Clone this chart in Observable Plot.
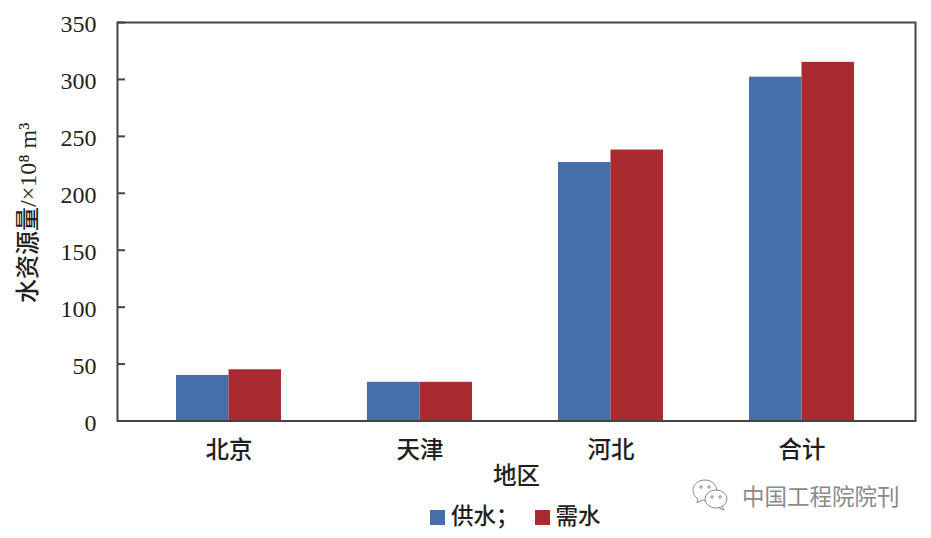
<!DOCTYPE html>
<html>
<head>
<meta charset="utf-8">
<script src="https://cdn.jsdelivr.net/npm/d3@7"></script>
<script src="https://cdn.jsdelivr.net/npm/@observablehq/plot@0.6"></script>
<style>
html,body{margin:0;padding:0;background:#fff;width:931px;height:538px;overflow:hidden;position:relative}
#legend{position:absolute;left:430px;top:502px;display:flex;align-items:center;font:500 22.5px "Liberation Serif","Noto Sans CJK SC",serif;color:#231f20;line-height:30px}
#legend i{display:inline-block;width:15px;height:15px;margin-right:6px}
#legend span+span{margin-left:16px}
#mark{position:absolute;left:692px;top:479px;display:flex;align-items:center;font:400 22.5px "Noto Sans CJK SC",sans-serif;color:#8a8a8a;line-height:30px}
#mark svg{margin-right:14px}
</style>
</head>
<body>
<div id="chart"></div>
<div id="legend"></div>
<div id="mark"></div>
<script>
const regions = ["北京", "天津", "河北", "合计"];
const supply = [40, 34, 227, 302];
const demand = [45, 34, 238, 315];
const seriesNames = ["供水；", "需水"];
const seriesColors = ["#456EAB", "#A92B30"];
const yTicks = [0, 50, 100, 150, 200, 250, 300, 350];
const yLabel = "水资源量/×10⁸ m³";
const xLabel = "地区";
const watermark = "中国工程院院刊";

const ink = "#231f20";
const font = '"Liberation Serif","Noto Sans CJK SC",serif';
const supplyRows = regions.map((r, i) => ({region: r, value: supply[i]}));
const demandRows = regions.map((r, i) => ({region: r, value: demand[i]}));

const plot = Plot.plot({
  width: 931,
  height: 490,
  marginLeft: 117,
  marginRight: 16,
  marginTop: 22,
  marginBottom: 69.5,
  style: {fontFamily: font, background: "#fff", color: ink, overflow: "visible"},
  x: {domain: regions, range: [133, 897], paddingInner: 0.45, paddingOuter: 0.225, align: 0.5, label: null},
  y: {domain: [0, 350], label: null},
  marks: [
    Plot.barY(supplyRows, {x: "region", y: "value", fill: seriesColors[0], insetRight: 52.5}),
    Plot.barY(demandRows, {x: "region", y: "value", fill: seriesColors[1], insetLeft: 52.5}),
    Plot.frame({stroke: "#444", strokeWidth: 2}),
    Plot.axisY(yTicks, {
      tickSize: -8, text: null, stroke: "#444", strokeWidth: 2, strokeOpacity: 1, label: null
    }),
    Plot.axisY(yTicks, {
      tickSize: 0, tickPadding: 21, dy: 2, fontSize: 24, fill: ink, label: null
    }),
    Plot.axisX({
      tickSize: 0, tickPadding: 20, fontSize: 23.5, fontWeight: 500, fill: ink, label: null
    }),
    Plot.text([xLabel], {
      text: d => d, frameAnchor: "bottom", dy: 63, fontSize: 23.5, fontWeight: 500, fill: ink
    }),
    Plot.text([yLabel], {
      text: d => d, frameAnchor: "left", textAnchor: "middle", rotate: -90, dx: -89, dy: -9, fontSize: 24, fontWeight: 500, fill: ink
    })
  ]
});
document.getElementById("chart").appendChild(plot);

const legend = document.getElementById("legend");
seriesNames.forEach((name, i) => {
  const item = document.createElement("span");
  item.style.cssText = "display:inline-flex;align-items:center;";
  const sw = document.createElement("i");
  sw.style.background = seriesColors[i];
  item.appendChild(sw);
  item.appendChild(document.createTextNode(name));
  legend.appendChild(item);
});

document.getElementById("mark").innerHTML =
  '<svg width="36" height="32" viewBox="0 0 36 32" fill="none" stroke="#8a8a8a" stroke-width="1">' +
  '<path d="M25 11C24 5 19 1 13 1 6 1 1 6 1 11c0 4 2 7 5 9l-1 4 5-3c1 0 2 .5 3 .5"/>' +
  '<ellipse cx="24" cy="20" rx="11" ry="9"/><path d="M30 27l2 4-5-2"/>' +
  '<circle cx="9" cy="8" r="1.2"/><circle cx="17" cy="8" r="1.2"/>' +
  '<circle cx="20" cy="18" r="1.2"/><circle cx="28" cy="18" r="1.2"/></svg>' +
  '<span>' + watermark + '</span>';
</script>
</body>
</html>
